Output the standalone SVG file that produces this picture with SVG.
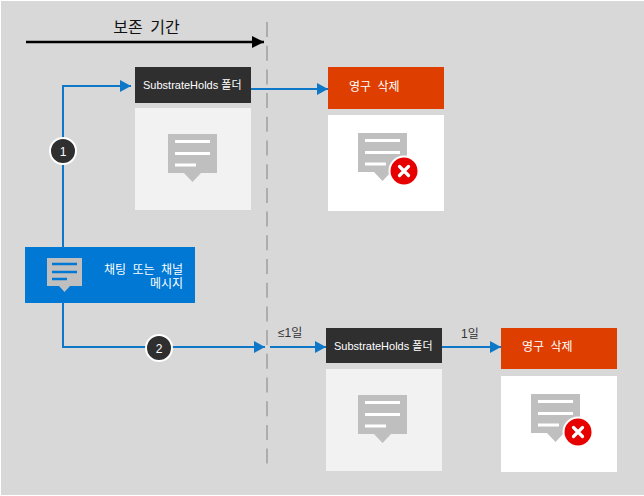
<svg xmlns="http://www.w3.org/2000/svg" width="644" height="496" viewBox="0 0 644 496">
<style>
text{font-family:"Liberation Sans","Noto Sans CJK KR",sans-serif}
.w{fill:#fff;font-size:12px;word-spacing:3px}
.h{fill:#fff;font-size:11px}
.k{fill:#333;font-size:12px}
.c{fill:#bfbfbf}
.conn{fill:none;stroke:#0f77c7;stroke-width:2}
.dark{fill:#2f2f2f}
.org{fill:#de3e00}
.lite{fill:#f2f2f2}
.wh{fill:#fff}
.nb{fill:#2f2f2f;stroke:#fff;stroke-width:2}
.num{fill:#fff;font-size:12px;text-anchor:middle}
.ln{stroke:#fff;stroke-width:3}
</style>
<defs>
<marker id="b" markerUnits="userSpaceOnUse" markerWidth="11" markerHeight="12" refX="11" refY="6" orient="auto"><path d="M0 0L11 6L0 12Z" fill="#0f77c7"/></marker>
<marker id="k" markerUnits="userSpaceOnUse" markerWidth="12" markerHeight="12" refX="12" refY="6" orient="auto"><path d="M0 0L12 6L0 12Z" fill="#000"/></marker>
<g id="msg"><path class="c" d="M0 0H49V39H33L24.500 48L16 39H0Z"/><path class="ln" d="M7 7.500H42M7 19.500H42M7 31H28"/></g>
<g id="del"><circle cx="0" cy="0" r="15.500" fill="#fff"/><circle cx="0" cy="0" r="13.500" fill="#e60000"/><path d="M-4.500 -4.500L4.500 4.500M4.500 -4.500L-4.500 4.500" stroke="#fff" stroke-width="3.200" stroke-linecap="round"/></g>
</defs>
<rect x="1" y="1" width="643" height="494" fill="#d8d8d8"/>
<g id="connectors">
<line x1="267" y1="22" x2="267" y2="469" stroke="#adadad" stroke-width="2" stroke-dasharray="15 8.700"/>
<line x1="26" y1="42" x2="264" y2="42" stroke="#000" stroke-width="2.500" marker-end="url(#k)"/>
<path class="conn" d="M63 247V86H131" marker-end="url(#b)"/>
<path class="conn" d="M251 89H328" marker-end="url(#b)"/>
<path class="conn" d="M63 303V347H265" marker-end="url(#b)"/>
<path class="conn" d="M270 347H326" marker-end="url(#b)"/>
<path class="conn" d="M442 347H501" marker-end="url(#b)"/>
</g>
<g id="title"><text x="146.500" y="33" font-size="16" text-anchor="middle" fill="#111" word-spacing="3">보존 기간</text></g>
<g id="source">
<rect x="25" y="247" width="170" height="56" fill="#0078d4"/>
<path class="c" d="M47 258H82V286H70L64.500 292L59 286H47Z"/>
<path d="M52 264H77M52 272H77M52 279H67" stroke="#0078d4" stroke-width="2.400"/>
<text class="w" x="183" y="274" text-anchor="end">채팅 또는 채널</text>
<text class="w" x="183" y="288" text-anchor="end">메시지</text>
</g>
<g id="step1"><circle class="nb" cx="63" cy="151" r="13"/><text class="num" x="63" y="156">1</text></g>
<g id="step2"><circle class="nb" cx="159" cy="348" r="13"/><text class="num" x="159" y="353">2</text></g>
<g id="holds1">
<rect class="dark" x="135" y="67" width="116" height="36"/>
<text class="h" x="143" y="89">SubstrateHolds 폴더</text>
<rect class="lite" x="135" y="108" width="116" height="102"/>
<use href="#msg" x="168" y="134"/>
</g>
<g id="delete1">
<rect class="org" x="328" y="67" width="116" height="42"/>
<text class="w" x="349" y="91">영구 삭제</text>
<rect class="wh" x="328" y="115" width="116" height="96"/>
<use href="#msg" x="358" y="133"/>
<use href="#del" x="404" y="171"/>
</g>
<g id="holds2">
<rect class="dark" x="326" y="328" width="116" height="35"/>
<text class="h" x="334" y="350">SubstrateHolds 폴더</text>
<rect class="lite" x="326" y="369" width="116" height="102"/>
<use href="#msg" x="358" y="395"/>
</g>
<g id="delete2">
<rect class="org" x="501" y="328" width="116" height="41"/>
<text class="w" x="522" y="351">영구 삭제</text>
<rect class="wh" x="501" y="376" width="116" height="96"/>
<use href="#msg" x="531" y="394"/>
<use href="#del" x="578" y="432"/>
</g>
<g id="labels">
<text class="k" x="278" y="337" font-size="12">≤1일</text>
<text class="k" x="461" y="338">1일</text>
</g>
</svg>
